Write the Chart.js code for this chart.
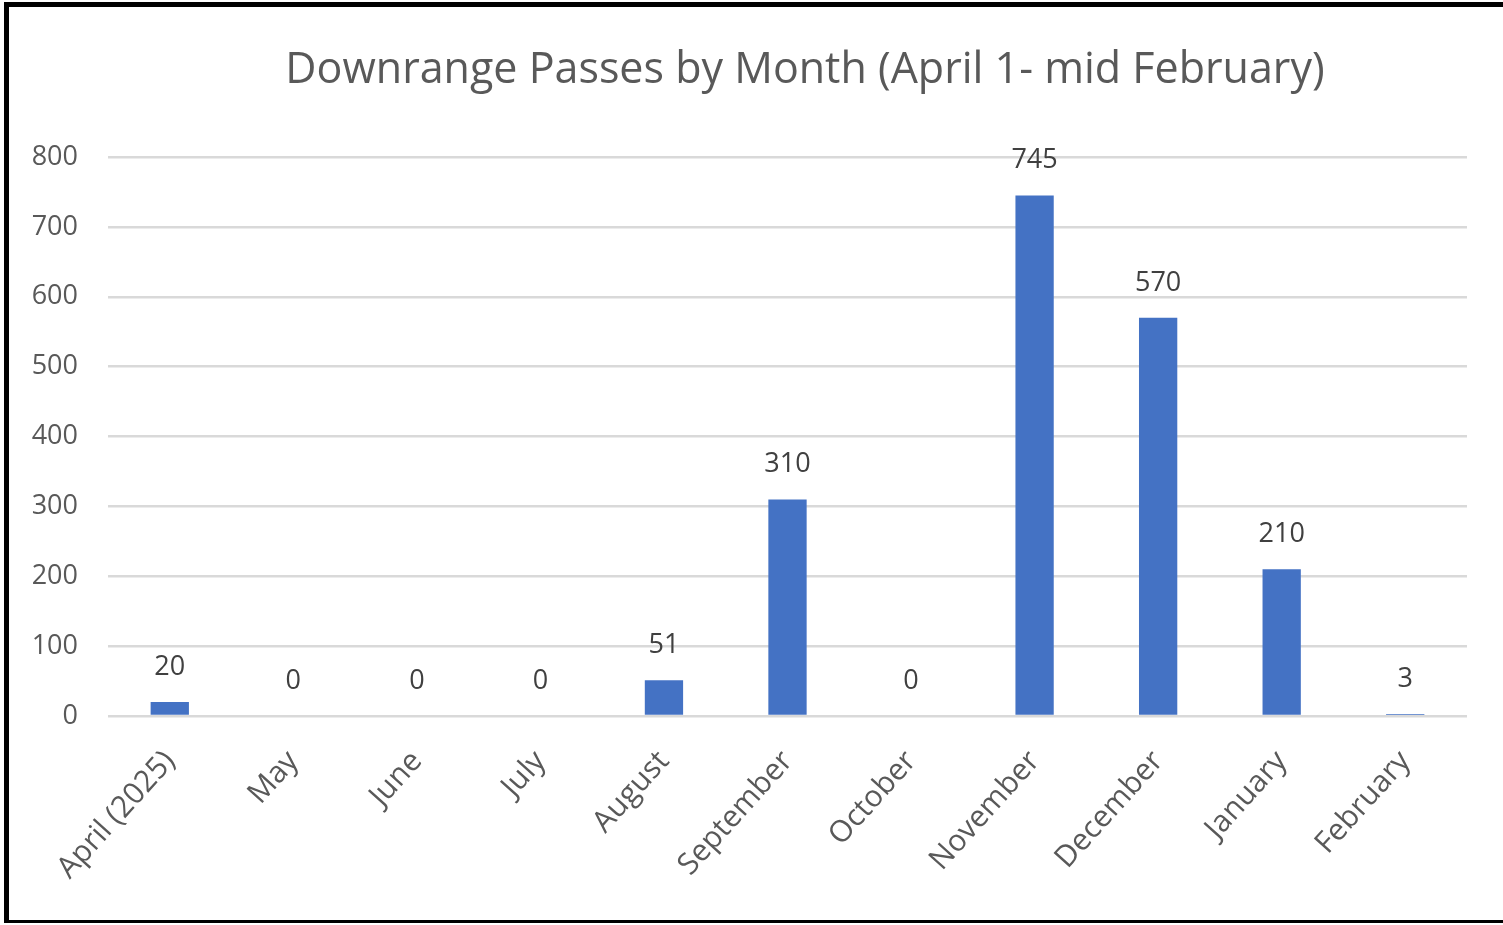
<!DOCTYPE html>
<html>
<head>
<meta charset="utf-8">
<script src="https://cdn.jsdelivr.net/npm/chart.js@4/dist/chart.umd.min.js"></script>
<style>
  html, body { margin: 0; padding: 0; background: #fff; }
  #frame {
    position: absolute; left: 4px; top: 2px;
    width: 1494px; height: 913px;
    border-left: 5px solid #000; border-top: 5px solid #000; border-bottom: 3px solid #000;
  }
  #chart { display: block; }
</style>
</head>
<body>
<div id="frame"><canvas id="chart" width="1494" height="913"></canvas></div>
<script>
const months = ['April (2025)', 'May', 'June', 'July', 'August', 'September',
                'October', 'November', 'December', 'January', 'February'];
const passes = [20, 0, 0, 0, 51, 310, 0, 745, 570, 210, 3];
const yTicks = [0, 100, 200, 300, 400, 500, 600, 700, 800];
const chartTitle = 'Downrange Passes by Month (April 1- mid February)';

const FONT = "'Open Sans', sans-serif";

// title sits a bit right of the canvas centre in the original, so draw it by hand
const titleText = {
    id: 'titleText',
    afterDraw(chart) {
        const ctx = chart.ctx;
        ctx.save();
        ctx.font = `43px ${FONT}`;
        ctx.fillStyle = '#595959';
        ctx.textAlign = 'center';
        ctx.textBaseline = 'alphabetic';
        ctx.fillText(chartTitle, 796, 76);
        ctx.restore();
    }
};

// value labels above each bar
const barLabels = {
    id: 'barLabels',
    afterDatasetsDraw(chart) {
        const ctx = chart.ctx;
        const meta = chart.getDatasetMeta(0);
        ctx.save();
        ctx.font = `27px ${FONT}`;
        ctx.fillStyle = '#404040';
        ctx.textAlign = 'center';
        ctx.textBaseline = 'alphabetic';
        meta.data.forEach((bar, i) => {
            ctx.fillText(String(passes[i]), bar.x, bar.y - 27);
        });
        ctx.restore();
    }
};

new Chart(document.getElementById('chart'), {
    type: 'bar',
    data: {
        labels: months,
        datasets: [{
            data: passes,
            backgroundColor: '#4472C4',
            categoryPercentage: 1,
            barPercentage: 0.31
        }]
    },
    options: {
        responsive: false,
        animation: false,
        layout: { padding: { left: 0, right: 36, top: 150, bottom: 0 } },
        plugins: {
            legend: { display: false },
            tooltip: { enabled: false },
            title: { display: false }
        },
        scales: {
            x: {
                grid: { display: false },
                border: { display: false },
                ticks: {
                    color: '#595959',
                    font: { family: FONT, size: 30 },
                    minRotation: 48,
                    maxRotation: 48,
                    autoSkip: false,
                    padding: 20
                },
                afterFit(axis) { axis.height = 204; }
            },
            y: {
                min: 0,
                max: 800,
                afterBuildTicks(axis) { axis.ticks = yTicks.map(v => ({ value: v })); },
                grid: { color: '#d9d9d9', lineWidth: 2.5, drawTicks: false },
                border: { display: false },
                ticks: {
                    color: '#595959',
                    font: { family: FONT, size: 27 },
                    padding: 30
                },
                afterFit(axis) { axis.width = 99; }
            }
        }
    },
    plugins: [barLabels, titleText]
});
</script>
</body>
</html>
